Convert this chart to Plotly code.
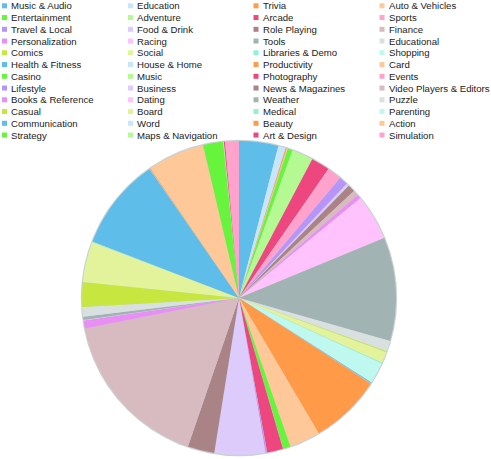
import plotly.graph_objects as go

categories = [
    "Music & Audio", "Education", "Trivia", "Auto & Vehicles",
    "Entertainment", "Adventure", "Arcade", "Sports",
    "Travel & Local", "Food & Drink", "Role Playing", "Finance",
    "Personalization", "Racing", "Tools", "Educational",
    "Comics", "Social", "Libraries & Demo", "Shopping",
    "Health & Fitness", "House & Home", "Productivity", "Card",
    "Casino", "Music", "Photography", "Events",
    "Lifestyle", "Business", "News & Magazines", "Video Players & Editors",
    "Books & Reference", "Dating", "Weather", "Puzzle",
    "Casual", "Board", "Medical", "Parenting",
    "Communication", "Word", "Beauty", "Action",
    "Strategy", "Maps & Navigation", "Art & Design", "Simulation",
]

shares = [
    4.03, 0.78, 0.11, 0.11,
    0.50, 2.19, 1.92, 1.50,
    0.89, 0.28, 0.75, 0.56,
    0.42, 4.72, 10.64, 1.08,
    0.11, 1.17, 0.08, 2.17,
    0.11, 0.03, 7.36, 3.17,
    0.75, 0.03, 1.64, 0.03,
    0.14, 5.22, 2.75, 16.61,
    0.83, 0.03, 0.33, 1.00,
    2.53, 4.17, 0.03, 0.03,
    9.50, 0.03, 0.08, 5.86,
    2.06, 0.08, 0.11, 1.42,
]

palette = [
    "#5ebde9", "#c8e6fb", "#ff9a48", "#ffc899",
    "#66f53c", "#b5f993", "#ee4780", "#ffa3cc",
    "#b595fa", "#dccbfb", "#aa8387", "#d7bbc0",
    "#e88ff6", "#ffc2fc", "#a2b3b3", "#d8e0e0",
    "#c8e640", "#e2f39c", "#8ef2d8", "#bff8ee",
]
colors = [palette[i % len(palette)] for i in range(len(categories))]

W, H = 491, 459
cx, cy, r = 239, 298, 157

fig = go.Figure()
fig.add_trace(go.Pie(
    labels=categories,
    values=shares,
    sort=False,
    direction="clockwise",
    rotation=0,
    textinfo="none",
    hoverinfo="label+percent",
    marker=dict(colors=colors, line=dict(width=0)),
    showlegend=False,
    domain=dict(x=[(cx - r) / W, (cx + r) / W], y=[1 - (cy + r) / H, 1 - (cy - r) / H]),
))

shapes = []
# soft rim around the pie
rr = r + 1.2
shapes.append(dict(type="circle", xref="paper", yref="paper", layer="below",
                   x0=(cx - rr) / W, x1=(cx + rr) / W,
                   y0=1 - (cy + rr) / H, y1=1 - (cy - rr) / H,
                   fillcolor="#c9d2d2", line=dict(width=0)))

annotations = []
col_x = [2, 128, 253.5, 379.5]
row0, dy = 5.8, 11.75
sq = 5
for i, name in enumerate(categories):
    row, col = divmod(i, 4)
    x = col_x[col]
    y = row0 + row * dy
    shapes.append(dict(type="rect", xref="paper", yref="paper",
                       x0=x / W, x1=(x + sq) / W,
                       y0=1 - (y + sq / 2) / H, y1=1 - (y - sq / 2) / H,
                       fillcolor=colors[i], line=dict(width=0)))
    annotations.append(dict(text=name, xref="paper", yref="paper",
                            x=(x + sq + 2) / W, y=1 - y / H,
                            xanchor="left", yanchor="middle", showarrow=False,
                            font=dict(family="Liberation Sans, Arial, sans-serif", size=9.6, color="#222222")))

fig.update_layout(
    width=W, height=H,
    margin=dict(l=0, r=0, t=0, b=0),
    paper_bgcolor="white",
    plot_bgcolor="white",
    shapes=shapes,
    annotations=annotations,
)

fig.write_html("out.html", config={"displayModeBar": False},
               post_script="document.body.style.margin='0';document.body.style.overflow='hidden';")
